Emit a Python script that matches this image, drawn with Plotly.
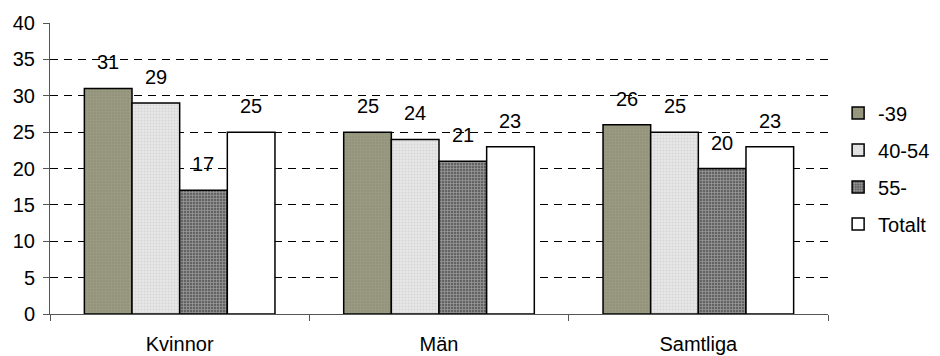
import plotly.graph_objects as go

categories = ["Kvinnor", "Män", "Samtliga"]
series_names = ["-39", "40-54", "55-", "Totalt"]
v_39 = [31, 25, 26]
v_40_54 = [29, 24, 25]
v_55 = [17, 21, 20]
v_tot = [25, 23, 23]
y_ticks = [0, 5, 10, 15, 20, 25, 30, 35, 40]

values = [v_39, v_40_54, v_55, v_tot]
styles = [
    dict(color="#999981", pattern=dict(shape="+", fgcolor="#a8a890", bgcolor="#94947c", size=3, solidity=0.3)),
    dict(color="#e2e2e2", pattern=dict(shape=".", fgcolor="#c4c4c4", bgcolor="#e8e8e8", size=3, solidity=0.4)),
    dict(color="#777777", pattern=dict(shape="+", fgcolor="#d4d4d4", bgcolor="#636363", size=3, solidity=0.4)),
    dict(color="#ffffff"),
]

FONT = "Liberation Sans, Arial, sans-serif"
FS = 20
bargap = 0.265
bw = (1 - bargap) / 4

fig = go.Figure()
for j, (name, vals, st) in enumerate(zip(series_names, values, styles)):
    marker = dict(color=st["color"], line=dict(color="#000000", width=1.5))
    if "pattern" in st:
        marker["pattern"] = st["pattern"]
    fig.add_trace(go.Bar(
        x=categories, y=vals, name=name, marker=marker,
        legendgroup=name, hoverinfo="x+y+name",
    ))
    for i, v in enumerate(vals):
        fig.add_annotation(
            x=i + (j - 1.5) * bw, y=v, xref="x", yref="y",
            text=str(v), showarrow=False, yanchor="middle", yshift=26,
            font=dict(family=FONT, size=FS, color="#000000"),
        )

fig.update_layout(
    width=940, height=356,
    margin=dict(l=42, r=120, t=15, b=50),
    paper_bgcolor="white", plot_bgcolor="white",
    barmode="group", bargap=bargap, bargroupgap=0,
    font=dict(family=FONT, size=FS, color="#000000"),
    showlegend=True,
    legend=dict(
        x=1.013, xanchor="left", y=0.5, yanchor="middle",
        traceorder="grouped", tracegroupgap=8,
        font=dict(family=FONT, size=FS, color="#000000"),
        bgcolor="rgba(0,0,0,0)", itemwidth=30,
    ),
)
fig.update_yaxes(
    range=[0, 40], tickvals=y_ticks, ticktext=[str(t) for t in y_ticks],
    showline=True, linecolor="#555555", linewidth=1,
    ticks="outside", ticklen=6, tickcolor="#555555", ticklabelstandoff=4,
    showgrid=True, gridcolor="#000000", gridwidth=1, griddash="8px,6px",
    zeroline=False, automargin=False,
)
fig.update_xaxes(
    type="category", range=[-0.5, 2.5],
    showline=True, linecolor="#555555", linewidth=1,
    ticks="outside", ticklen=6, tickcolor="#555555", tickson="boundaries",
    ticklabelstandoff=12,
    showgrid=False, automargin=False,
)

fig.write_html("out.html")
